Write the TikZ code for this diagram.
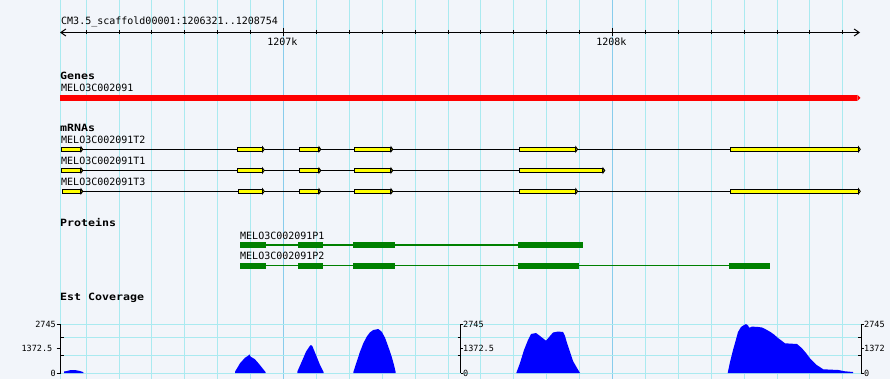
\documentclass[tikz,border=0pt]{standalone}
\usepackage{fontspec}
\newfontfamily\mono{DejaVu Sans Mono}
\usetikzlibrary{arrows.meta}
\definecolor{bgc}{RGB}{242,245,250}
\definecolor{gridc}{RGB}{170,234,240}
\definecolor{gridm}{RGB}{136,204,236}
\definecolor{exony}{RGB}{255,255,0}
\definecolor{protg}{RGB}{0,128,0}
\definecolor{covb}{RGB}{0,0,255}
\definecolor{gener}{RGB}{255,0,0}
\tikzset{
  lbl/.style={font={\mono\fontsize{10}{12}\selectfont}, inner sep=0pt, anchor=base west},
  trk/.style={font={\mono\bfseries\fontsize{10}{12}\selectfont}, inner sep=0pt, anchor=base west},
  axl/.style={font={\mono\fontsize{8.5}{10}\selectfont}, inner sep=0pt},
  exonbox/.style={draw=black, line width=1pt, fill=exony, inner sep=0pt, minimum height=4pt, anchor=west},
  exontip/.style={draw=black, line width=0.8pt, fill=exony},
  intron/.style={draw=black, line width=1pt},
  pblk/.style={fill=protg, inner sep=0pt, minimum height=5.5pt, anchor=west},
  plink/.style={draw=protg, line width=1.2pt},
  vgrid/.style={draw=gridc, line width=1pt},
  vgridmaj/.style={draw=gridm, line width=1pt},
  hgrid/.style={draw=gridc, line width=1pt},
  tickline/.style={draw=black, line width=1pt},
  genebar/.style={fill=gener, inner sep=0pt, minimum height=5.7pt, anchor=west},
  covfill/.style={fill=covb},
}
\newcommand\exn[4]{%
  \node[exonbox, minimum width={#3-#2-1}] (#1) at ({#2+0.5},#4) {};
  \draw[exontip] (#1.north east) -- ([xshift=1.8pt]#1.east) -- (#1.south east) -- cycle;}
\newcommand\pbk[4]{%
  \node[pblk, minimum width={#3-#2}] (#1) at (#2,#4) {};}
\begin{document}
\begin{tikzpicture}[x=1pt,y=-1pt]
\useasboundingbox (0,0) rectangle (890,379);
\fill[bgc] (0,0) rectangle (890,379);
% vertical grid
\draw[vgrid] (60.2,0) -- (60.2,379);
\foreach \k in {0,...,23}{
  \pgfmathsetmacro\gx{86.1+\k*32.9}
  \ifnum\k=6 \draw[vgridmaj] (\gx,0) -- (\gx,379);
  \else\ifnum\k=16 \draw[vgridmaj] (\gx,0) -- (\gx,379);
  \else \draw[vgrid] (\gx,0) -- (\gx,379);\fi\fi
}
% horizontal coverage grid
\foreach \hy in {324,337.3,355.3,373.3}{\draw[hgrid] (60,\hy) -- (861,\hy);}

% ruler
\node[lbl] (ttl) at (61,25) {CM3.5\_scaffold00001:1206321..1208754};
\coordinate (rl) at (60,32.5);
\coordinate (rr) at (860,32.5);
\draw[line width=1pt, {Straight Barb[length=5pt,width=7pt]}-{Straight Barb[length=5pt,width=7pt]}] (rl) -- (rr);
\foreach \k in {0,...,23}{
  \pgfmathsetmacro\gx{86.1+\k*32.9}
  \ifnum\k=6 \draw[tickline] (\gx,28) -- (\gx,36.5);
  \else\ifnum\k=16 \draw[tickline] (\gx,28) -- (\gx,36.5);
  \else \draw[tickline] (\gx,30) -- (\gx,34.5);\fi\fi
}
\node[lbl, anchor=base] (k7) at (282.3,45.7) {1207k};
\node[lbl, anchor=base] (k8) at (611.3,45.7) {1208k};

% genes
\node[trk] (genes) at (60,79.3) {\scalebox{1.16}[1]{Genes}};
\node[lbl] (gname) at (61,91.7) {MELO3C002091};
\node[genebar, minimum width=797] (gene) at (60,97.85) {};
\fill[gener] (gene.north east) -- ([xshift=3pt]gene.east) -- (gene.south east) -- cycle;

% mRNAs
\node[trk] (mrnas) at (60,131.7) {\scalebox{1.16}[1]{mRNAs}};
\node[lbl] (t2name) at (61,143.3) {MELO3C002091T2};
\node[lbl] (t1name) at (61,164.7) {MELO3C002091T1};
\node[lbl] (t3name) at (61,186) {MELO3C002091T3};

\exn{t2a}{60.3}{80.5}{149.3}
\exn{t2b}{236.3}{262}{149.3}
\exn{t2c}{298.3}{318.5}{149.3}
\exn{t2d}{353}{390.5}{149.3}
\exn{t2e}{518.3}{575.3}{149.3}
\exn{t2f}{729.3}{858}{149.3}
\draw[intron] ([xshift=1.8pt]t2a.east) -- (t2b.west);
\draw[intron] ([xshift=1.8pt]t2b.east) -- (t2c.west);
\draw[intron] ([xshift=1.8pt]t2c.east) -- (t2d.west);
\draw[intron] ([xshift=1.8pt]t2d.east) -- (t2e.west);
\draw[intron] ([xshift=1.8pt]t2e.east) -- (t2f.west);

\exn{t1a}{60.3}{80.5}{170.5}
\exn{t1b}{236.3}{262}{170.5}
\exn{t1c}{298.3}{318.5}{170.5}
\exn{t1d}{353}{390.5}{170.5}
\exn{t1e}{518.3}{602.5}{170.5}
\draw[intron] ([xshift=1.8pt]t1a.east) -- (t1b.west);
\draw[intron] ([xshift=1.8pt]t1b.east) -- (t1c.west);
\draw[intron] ([xshift=1.8pt]t1c.east) -- (t1d.west);
\draw[intron] ([xshift=1.8pt]t1d.east) -- (t1e.west);

\exn{t3a}{61.3}{80.5}{191.3}
\exn{t3b}{237.3}{262}{191.3}
\exn{t3c}{298.3}{318.5}{191.3}
\exn{t3d}{353}{390.5}{191.3}
\exn{t3e}{518.3}{575.3}{191.3}
\exn{t3f}{729.3}{858}{191.3}
\draw[intron] ([xshift=1.8pt]t3a.east) -- (t3b.west);
\draw[intron] ([xshift=1.8pt]t3b.east) -- (t3c.west);
\draw[intron] ([xshift=1.8pt]t3c.east) -- (t3d.west);
\draw[intron] ([xshift=1.8pt]t3d.east) -- (t3e.west);
\draw[intron] ([xshift=1.8pt]t3e.east) -- (t3f.west);

% proteins
\node[trk] (prots) at (60,226.3) {\scalebox{1.16}[1]{Proteins}};
\node[lbl] (p1name) at (240,239) {MELO3C002091P1};
\node[lbl] (p2name) at (240,259.7) {MELO3C002091P2};
\pbk{p1a}{240}{265.7}{245}
\pbk{p1b}{298}{323}{245}
\pbk{p1c}{353}{394.7}{245}
\pbk{p1d}{518}{582.7}{245}
\draw[plink] (p1a.east) -- (p1b.west);
\draw[plink] (p1b.east) -- (p1c.west);
\draw[plink] (p1c.east) -- (p1d.west);
\pbk{p2a}{240}{265.7}{265.8}
\pbk{p2b}{298}{323}{265.8}
\pbk{p2c}{353}{394.7}{265.8}
\pbk{p2d}{518}{579}{265.8}
\pbk{p2e}{729}{770}{265.8}
\draw[plink] (p2a.east) -- (p2b.west);
\draw[plink] (p2b.east) -- (p2c.west);
\draw[plink] (p2c.east) -- (p2d.west);
\draw[plink] (p2d.east) -- (p2e.west);

% coverage
\node[trk] (cov) at (60,300.3) {\scalebox{1.16}[1]{Est Coverage}};
\fill[covfill] (64,373) -- (64,371.5) -- (67,371) -- (70,370.2) -- (76,370.2) -- (80,371) -- (83,372) -- (83.5,373) -- cycle;
\fill[covfill] (235,373) -- (235,371.7) -- (240,363.3) -- (245,357.7) -- (248.3,355.7) -- (249.3,354.3) -- (250.7,356.7) -- (255,359.3) -- (259.3,364.3) -- (263.3,369.3) -- (265.7,372.3) -- (265.7,373) -- cycle;
\fill[covfill] (297.3,373) -- (297.3,371.7) -- (301.7,361.7) -- (306,351.7) -- (309.3,346.7) -- (310.7,345) -- (312.3,346) -- (316,355) -- (320,365) -- (323.7,372.3) -- (323.7,373) -- cycle;
\fill[covfill] (353.3,373) -- (353.3,372.3) -- (356.7,361.7) -- (360,351.7) -- (363.3,343.3) -- (366.7,336.7) -- (370,332.3) -- (373.3,330) -- (378.3,329) -- (381.7,331.7) -- (385,337.7) -- (388.3,346.7) -- (391.7,356.7) -- (394,365) -- (395.7,372.3) -- (395.7,373) -- cycle;
\fill[covfill] (516.3,373) -- (520,363) -- (524,350) -- (528,340) -- (531,334) -- (536,333) -- (540,336) -- (546,340.7) -- (550,336) -- (553,332.5) -- (558,331.5) -- (563,332) -- (565,336) -- (567,343) -- (570,352) -- (573,361) -- (577,368) -- (580,373) -- cycle;
\fill[covfill] (727.7,373) -- (730,362) -- (733,350) -- (735,343) -- (738,332) -- (741,327) -- (744,325) -- (746,324) -- (748,325.5) -- (749.3,327.8) -- (751.7,326.7) -- (757,326.8) -- (762,327.5) -- (766,329.5) -- (770,331.7) -- (774,334.5) -- (778,338) -- (782,341) -- (785,343.3) -- (797,344) -- (802,348.3) -- (806,353) -- (810,358.3) -- (816.7,365) -- (823.3,369.3) -- (838.3,370) -- (845,371.3) -- (853,372) -- (853,373) -- cycle;

% axes
\draw[tickline] (60.5,324) -- (60.5,373.3);
\foreach \ty in {324.3,348.7,373}{\draw[tickline] (56.5,\ty) -- (60.5,\ty);}
\foreach \ty in {337.3,355.5}{\draw[tickline] (60.5,\ty) -- (63.5,\ty);}
\node[axl, anchor=east] (la1) at (56,324.3) {2745};
\node[axl, anchor=east] (la2) at (52.5,348.7) {1372.5};
\node[axl, anchor=east] (la3) at (56,373) {0};

\draw[tickline] (460.5,324) -- (460.5,373.3);
\foreach \ty in {324.3,348.7,373}{\draw[tickline] (460.5,\ty) -- (463,\ty);}
\foreach \ty in {337.3,355.5}{\draw[tickline] (457.5,\ty) -- (460.5,\ty);}
\node[axl, anchor=west] (ma1) at (463,324.3) {2745};
\node[axl, anchor=west] (ma2) at (463,348.7) {1372.5};
\node[axl, anchor=west] (ma3) at (463,373) {0};

\draw[tickline] (861,324) -- (861,373.3);
\foreach \ty in {324.3,348.7,373}{\draw[tickline] (861,\ty) -- (864,\ty);}
\foreach \ty in {337.3,355.5}{\draw[tickline] (858,\ty) -- (861,\ty);}
\node[axl, anchor=west] (ra1) at (864,324.3) {2745};
\node[axl, anchor=west] (ra2) at (864,348.7) {1372};
\node[axl, anchor=west] (ra3) at (864,373) {0};
\end{tikzpicture}
\end{document}
